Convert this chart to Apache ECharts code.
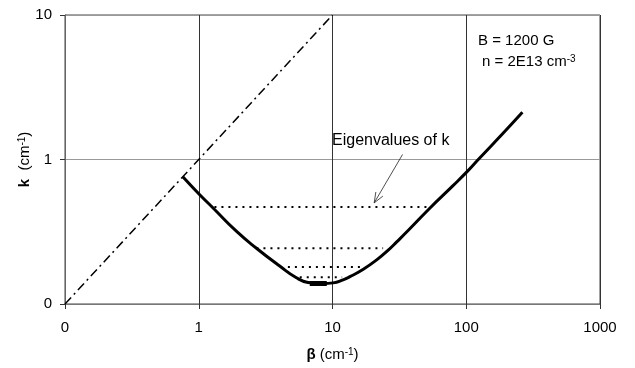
<!DOCTYPE html>
<html>
<head>
<meta charset="utf-8">
<script src="https://cdn.jsdelivr.net/npm/echarts@6/dist/echarts.min.js"></script>
<style>
html,body{margin:0;padding:0;background:#fff;}
#chart{width:635px;height:368px;}
</style>
</head>
<body>
<div id="chart"></div>
<script>
// ---- data ----
const xTickLabels = ['0', '1', '10', '100', '1000'];
const yTickLabels = ['0', '1', '10'];
const xTickValues = [0.1, 1, 10, 100, 1000];
const yTickValues = [0.1, 1, 10];

// dispersion curve k(beta)
const curveBeta = [0.76, 1.0, 1.28, 1.91, 2.70, 4.03, 5.37, 6.56, 8.5, 10.1, 12.0, 13.5, 17.0, 21.4, 26.1, 30.2, 36.9, 53.6, 80, 101, 123, 190, 263];
const curveK    = [0.76, 0.58, 0.462, 0.319, 0.243, 0.183, 0.152, 0.141, 0.1385, 0.140, 0.147, 0.1545, 0.174, 0.202, 0.236, 0.269, 0.3236, 0.462, 0.662, 0.821, 1.0, 1.53, 2.12];

// k = beta line
const diagBeta = [0.1, 10];
const diagK    = [0.1, 10];

// eigenvalues of k (dotted levels)
const eigenK     = [0.47, 0.243, 0.180, 0.153];
const eigenStart = [1.31, 2.70, 4.64, 5.69];
const eigenEnd   = [50.6, 23.9, 16.2, 11.8];

// lowest eigenvalue (thick segment)
const groundK = [0.1387, 0.1387];
const groundBeta = [6.76, 9.06];

// annotation arrow (from text to eigenvalue line)
const arrowFrom = [33.4, 1.083];
const arrowTo   = [20.5, 0.501];

const FONT = "'Liberation Sans', Arial, sans-serif";

function tickLabel(values, labels) {
  return function (v) {
    for (let i = 0; i < values.length; i++) {
      if (Math.abs(Math.log10(v) - Math.log10(values[i])) < 1e-6) return labels[i];
    }
    return '';
  };
}

const supRich = {
  t: { fontFamily: FONT, fontSize: 15, color: '#000', lineHeight: 16, verticalAlign: 'middle' },
  b: { fontFamily: FONT, fontSize: 15, fontWeight: 'bold', color: '#000', lineHeight: 16, verticalAlign: 'middle' },
  s: { fontFamily: FONT, fontSize: 10, color: '#000', lineHeight: 8, verticalAlign: 'top' }
};

const series = [];

series.push({
  type: 'line',
  data: diagBeta.map((b, i) => [b, diagK[i]]),
  showSymbol: false,
  silent: true,
  lineStyle: { color: '#000', width: 1.5, type: [9, 4, 2, 4] },
  z: 3
});

series.push({
  type: 'line',
  data: curveBeta.map((b, i) => [b, curveK[i]]),
  showSymbol: false,
  smooth: 0.5,
  silent: true,
  lineStyle: { color: '#000', width: 3 },
  z: 5
});

eigenK.forEach((k, i) => {
  series.push({
    type: 'line',
    data: [[eigenStart[i], k], [eigenEnd[i], k]],
    showSymbol: false,
    silent: true,
    lineStyle: { color: '#000', width: 2, type: [2, 5] },
    z: 4
  });
});

series.push({
  type: 'line',
  data: groundBeta.map((b, i) => [b, groundK[i]]),
  showSymbol: false,
  silent: true,
  lineStyle: { color: '#000', width: 5 },
  z: 6
});

series.push({
  type: 'custom',
  silent: true,
  data: [[arrowFrom[0], arrowFrom[1], arrowTo[0], arrowTo[1]]],
  renderItem: function (params, api) {
    const p0 = api.coord([api.value(0), api.value(1)]);
    const p1 = api.coord([api.value(2), api.value(3)]);
    const ang = Math.atan2(p1[1] - p0[1], p1[0] - p0[0]);
    const L = 11, a = 0.38;
    const h1 = [p1[0] - L * Math.cos(ang - a), p1[1] - L * Math.sin(ang - a)];
    const h2 = [p1[0] - L * Math.cos(ang + a), p1[1] - L * Math.sin(ang + a)];
    const st = { stroke: '#222', lineWidth: 0.8, fill: null };
    return {
      type: 'group',
      children: [
        { type: 'line', shape: { x1: p0[0], y1: p0[1], x2: p1[0], y2: p1[1] }, style: st },
        { type: 'polyline', shape: { points: [h1, p1, h2] }, style: st }
      ]
    };
  },
  z: 7
});

const chart = echarts.init(document.getElementById('chart'), null, { renderer: 'canvas' });
chart.setOption({
  animation: false,
  backgroundColor: '#fff',
  grid: {
    left: 65, right: 35, top: 15, bottom: 64,
    show: true, borderColor: '#444', borderWidth: 1, backgroundColor: 'transparent'
  },
  xAxis: {
    type: 'log', logBase: 10, min: 0.1, max: 1000,
    name: '{b|β}{t| (cm}{s|-1}{t|)}',
    nameLocation: 'middle', nameGap: 43, nameMoveOverlap: false,
    nameTextStyle: { fontFamily: FONT, fontSize: 15, color: '#000', rich: supRich },
    axisLine: { show: true, lineStyle: { color: '#777', width: 1 } },
    axisTick: { show: true, length: 5, lineStyle: { color: '#333' } },
    axisLabel: { formatter: tickLabel(xTickValues, xTickLabels), fontFamily: FONT, fontSize: 15, color: '#000', margin: 16 },
    splitLine: { show: true, lineStyle: { color: '#333', width: 1 } },
    minorTick: { show: false }
  },
  yAxis: {
    type: 'log', logBase: 10, min: 0.1, max: 10,
    name: '{b|k}{t|  (cm}{s|-1}{t|)}',
    nameLocation: 'middle', nameGap: 32, nameRotate: 90, nameMoveOverlap: false,
    nameTextStyle: { fontFamily: FONT, fontSize: 15, color: '#000', rich: supRich },
    axisLine: { show: true, lineStyle: { color: '#666', width: 1 } },
    axisTick: { show: true, length: 5, lineStyle: { color: '#333' } },
    axisLabel: { formatter: tickLabel(yTickValues, yTickLabels), fontFamily: FONT, fontSize: 15, color: '#000', margin: 13 },
    splitLine: { show: true, lineStyle: { color: '#999', width: 1 } }
  },
  graphic: [
    {
      type: 'text', left: 332, top: 133, silent: true,
      style: { text: 'Eigenvalues of k', font: "16px 'Liberation Sans', Arial, sans-serif", fill: '#000' }
    },
    {
      type: 'text', left: 478, top: 33, silent: true,
      style: { text: 'B = 1200 G', font: "15px 'Liberation Sans', Arial, sans-serif", fill: '#000' }
    },
    {
      type: 'text', left: 482, top: 54, silent: true,
      style: { text: '{t|n = 2E13 cm}{s|-3}', rich: supRich }
    }
  ],
  series: series
});
</script>
</body>
</html>
